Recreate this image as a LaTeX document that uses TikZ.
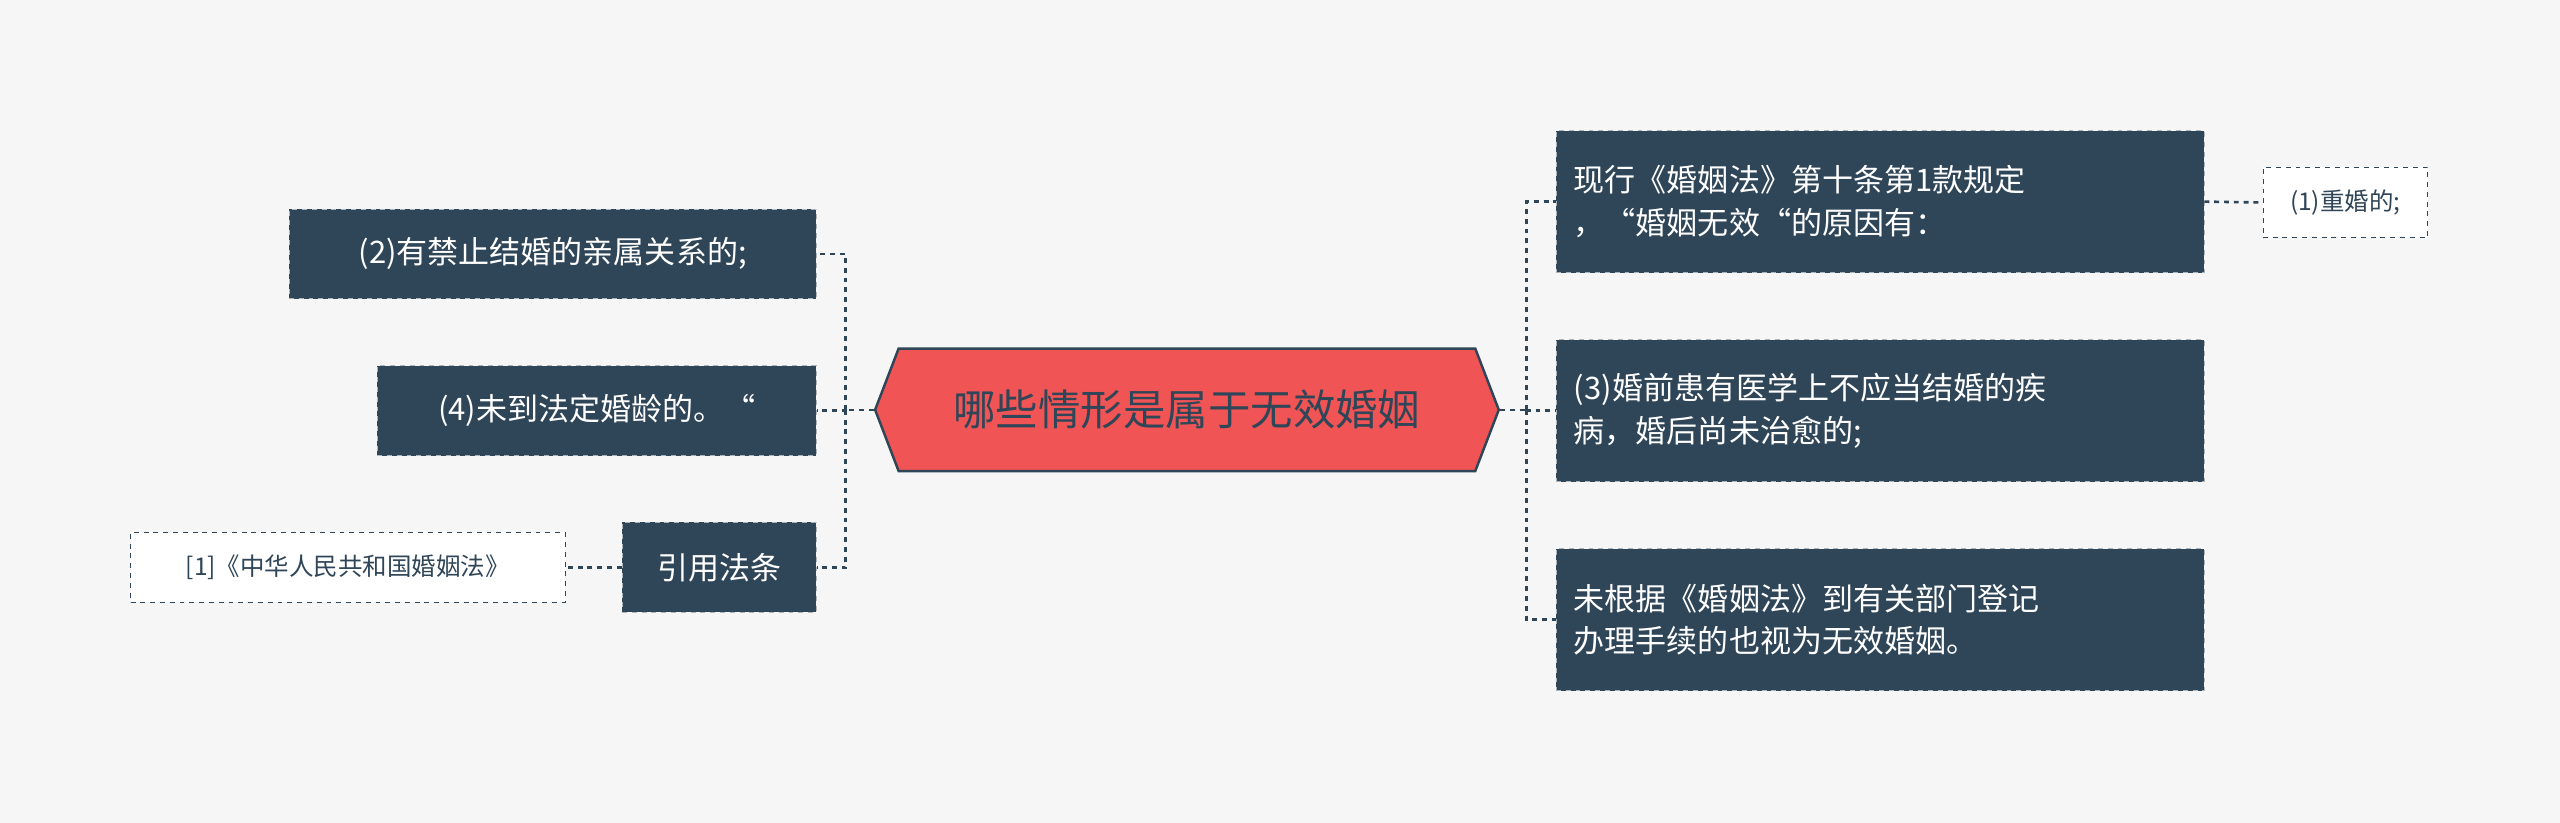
\documentclass[tikz,border=0pt]{standalone}
\usepackage{fontspec}
\setmainfont{Noto Sans CJK SC}
\usetikzlibrary{positioning,shapes.symbols}
\definecolor{slate}{HTML}{2F4558}
\definecolor{hexred}{HTML}{F05454}
\definecolor{bgcol}{HTML}{F6F6F6}
\tikzset{
  topic/.style={fill=slate, draw=slate!40, dashed, text=white, font=\fontsize{19}{26}\selectfont,
    minimum height=55, inner sep=0pt, align=left},
  leaf/.style={fill=white, draw=slate, dashed, text=slate, font=\fontsize{15}{18}\selectfont,
    minimum height=43, inner sep=0pt},
  link/.style={draw=slate, dashed, line width=1.6pt}
}
\begin{document}
\begin{tikzpicture}[x=1pt,y=-1pt]
  \fill[bgcol] (0,0) rectangle (1568,504);
  \useasboundingbox (0,0) rectangle (1568,504);
  % ---- centre ----
  \node[signal, signal to=west and east, signal pointer angle=138, fill=hexred, draw=slate,
    line width=1.5pt, minimum width=382, minimum height=75, inner sep=0pt,
    font=\fontsize{26}{30}\selectfont, text=slate] (root) at (727,251) {哪些情形是属于无效婚姻};
  % ---- left ----
  \node[topic, minimum width=323] (kin) at (338.5,155.5) {(2)有禁止结婚的亲属关系的;};
  \node[topic, minimum width=269] (age) at (365.5,251.5) {(4)未到法定婚龄的。“};
  \node[topic, minimum width=119] (cite) at (440.5,347.5) {引用法条};
  \node[leaf, minimum width=266] (law) at (213,347.5) {[1]《中华人民共和国婚姻法》};
  % ---- right ----
  \node[topic, minimum width=397, minimum height=87, text width=375] (art) at (1151.5,123.5)
    {现行《婚姻法》第十条第1款规定\\，“婚姻无效“的原因有：};
  \node[leaf, minimum width=101] (bigamy) at (1436.5,124) {(1)重婚的;};
  \node[topic, minimum width=397, minimum height=87, text width=375] (ill) at (1151.5,251.5)
    {(3)婚前患有医学上不应当结婚的疾\\病，婚后尚未治愈的;};
  \node[topic, minimum width=397, minimum height=87, text width=375] (reg) at (1151.5,379.5)
    {未根据《婚姻法》到有关部门登记\\办理手续的也视为无效婚姻。};
  % ---- connectors ----
  \coordinate (lj) at (518,251);
  \coordinate (rj) at (935,251);
  \draw[link] (root.west) -- (lj);
  \foreach \n in {kin,age,cite} \draw[link] (lj) |- (\n.east);
  \draw[link] (root.east) -- (rj);
  \foreach \n in {art,ill,reg} \draw[link] (rj) |- (\n.west);
  \draw[link] (cite.west) -- (law.east);
  \draw[link] (art.east) -- (bigamy.west);
\end{tikzpicture}
\end{document}
